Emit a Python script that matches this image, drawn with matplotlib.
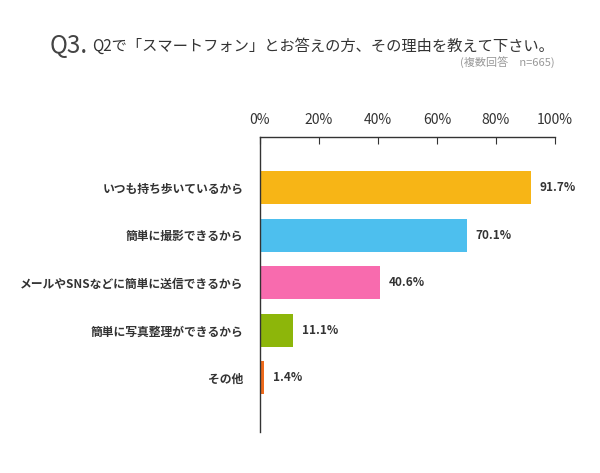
import matplotlib.pyplot as plt
import numpy as np

plt.rcParams['font.family'] = ['Noto Sans CJK JP', 'DejaVu Sans']

categories = ['いつも持ち歩いているから', '簡単に撮影できるから',
              'メールやSNSなどに簡単に送信できるから', '簡単に写真整理ができるから', 'その他']
values = [91.7, 70.1, 40.6, 11.1, 1.4]
colors = ['#F7B516', '#4DBFEE', '#F86BAE', '#8DB60A', '#EE6A1C']
xticks = [0, 20, 40, 60, 80, 100]

fig = plt.figure(figsize=(6, 4.73), dpi=100)
ax = fig.add_axes([0.4333, 0.0867, 0.4917, 0.6237])

y = np.arange(len(categories))
ax.barh(y, values, height=0.7, color=colors)
for yi, v in zip(y, values):
    ax.text(v + 3, yi, f'{v:.1f}%', va='center', ha='left', fontsize=8.5,
            color='#333333', fontweight='bold')

ax.set_xlim(0, 100)
ax.set_ylim(len(categories) - 1 + 1.14, -1.07)
ax.set_yticks(y)
ax.set_yticklabels(categories, fontsize=8.5, color='#333333', fontweight='bold')
ax.tick_params(axis='y', length=0, pad=12)
ax.xaxis.tick_top()
ax.set_xticks(xticks)
ax.set_xticklabels([f'{t}%' for t in xticks], fontsize=10, color='#333333')
ax.tick_params(axis='x', direction='in', length=5, pad=7, color='#333333')
for s in ['right', 'bottom']:
    ax.spines[s].set_visible(False)
for s in ['top', 'left']:
    ax.spines[s].set_color('#333333')
    ax.spines[s].set_linewidth(1)

fig.text(0.083, 0.902, 'Q3.', fontsize=17.5, color='#444444', va='center')
fig.text(0.153, 0.902, 'Q2で「スマートフォン」とお答えの方、その理由を教えて下さい。',
         fontsize=11, color='#333333', va='center')
fig.text(0.925, 0.866, '(複数回答\u3000n=665)', fontsize=8, color='#999999',
         ha='right', va='center')

fig.savefig('out.png', dpi=100)
